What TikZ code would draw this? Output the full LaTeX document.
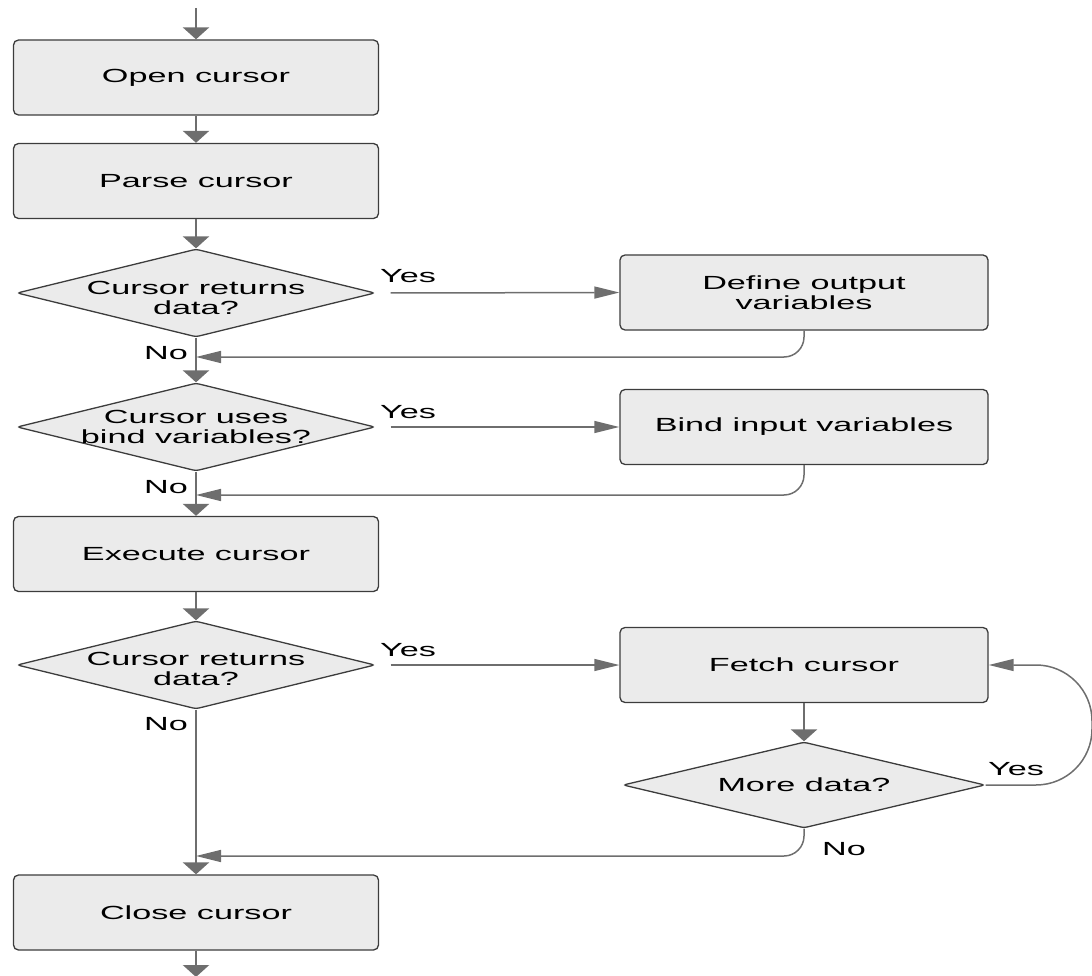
\documentclass[tikz,border=0pt]{standalone}
\usepackage{fontspec}
\setmainfont[FakeStretch=1.8]{Liberation Sans}
\usetikzlibrary{shapes.geometric,arrows.meta}
\definecolor{boxc}{HTML}{3C3C3C}
\definecolor{fillc}{HTML}{EBEBEB}
\definecolor{arrc}{HTML}{6E6E6E}
\newcommand{\fs}{\fontsize{19}{20.5}\selectfont}
\begin{document}
\begin{tikzpicture}[x=1pt,y=-1pt,
  stepbox/.style={draw=boxc, fill=fillc, rounded corners=5, minimum width=365, minimum height=75, line width=1.3, font=\fs, inner sep=0, align=center},
  sidebox/.style={stepbox, minimum width=368},
  dec/.style={diamond, draw=boxc, fill=fillc, minimum width=358, minimum height=88, inner sep=0, line width=1.3, rounded corners=3},
  dtext/.style={font=\fs, align=center, inner sep=0},
  mainline/.style={draw=arrc, line width=2.6, -{Triangle[length=12,width=26]}},
  sideline/.style={draw=arrc, line width=1.5, -{Triangle[length=25,width=12]}},
  lbl/.style={font=\fs, inner sep=0}]
\useasboundingbox (0,0) rectangle (1092,976);
% main column
\coordinate (top) at (196,8);
\node[stepbox] (open) at (196,77.5) {Open cursor};
\node[stepbox] (parse) at (196,181) {Parse cursor};
\node[dec] (d1) at (196,293) {};
\node[dtext] (d1t) at (196,298) {Cursor returns\\data?};
\coordinate (j1) at (196,357);
\node[dec] (d2) at (196,427) {};
\node[dtext] (d2t) at (196,427) {Cursor uses\\bind variables?};
\coordinate (j2) at (196,495);
\node[stepbox] (exec) at (196,554) {Execute cursor};
\node[dec] (d3) at (196,665) {};
\node[dtext] (d3t) at (196,669) {Cursor returns\\data?};
\coordinate (j3) at (196,856);
\node[stepbox] (close) at (196,912.5) {Close cursor};
\coordinate (bot) at (196,977);
% right column
\node[sidebox] (def) at (804,292.5) {Define output\\variables};
\node[sidebox] (bind) at (804,427) {Bind input variables};
\node[sidebox] (fetch) at (804,665) {Fetch cursor};
\node[dec, minimum width=362, minimum height=86] (md) at (804,785) {};
\node[dtext] (mdt) at (804,785) {More data?};
\coordinate (lr1) at (1092,785);
\coordinate (lr2) at (1092,665);
% main flow
\draw[mainline] (top) -- (open.north);
\draw[mainline] (open.south) -- (parse.north);
\draw[mainline] (parse.south) -- (d1.north);
\draw[mainline] (d1.south) -- (d2.north);
\draw[mainline] (d2.south) -- (exec.north);
\draw[mainline] (exec.south) -- (d3.north);
\draw[mainline] (d3.south) -- (close.north);
\draw[mainline] (close.south) -- (bot);
% yes branches
\draw[sideline] ([xshift=15]d1.east) -- (def.west);
\draw[sideline] ([xshift=15]d2.east) -- (bind.west);
\draw[sideline] ([xshift=15]d3.east) -- (fetch.west);
\draw[mainline] (fetch.south) -- (md.north);
% returns
\draw[sideline, rounded corners=20] (def.south) |- (j1);
\draw[sideline, rounded corners=20] (bind.south) |- (j2);
\draw[sideline, rounded corners=20] (md.south) |- (j3);
\draw[sideline, rounded corners=56] (md.east) -- (lr1) -- (lr2) -- (fetch.east);
% labels
\node[lbl, anchor=base west] (y1) at (380,283) {Yes};
\node[lbl, anchor=base west] (y2) at (380,418) {Yes};
\node[lbl, anchor=base west] (y3) at (380,656) {Yes};
\node[lbl, anchor=base west] (y4) at (988,775) {Yes};
\node[lbl, anchor=base east] (n1) at (188,359) {No};
\node[lbl, anchor=base east] (n2) at (188,493) {No};
\node[lbl, anchor=base east] (n3) at (188,730) {No};
\node[lbl, anchor=base west] (n4) at (822,855) {No};
\end{tikzpicture}
\end{document}
